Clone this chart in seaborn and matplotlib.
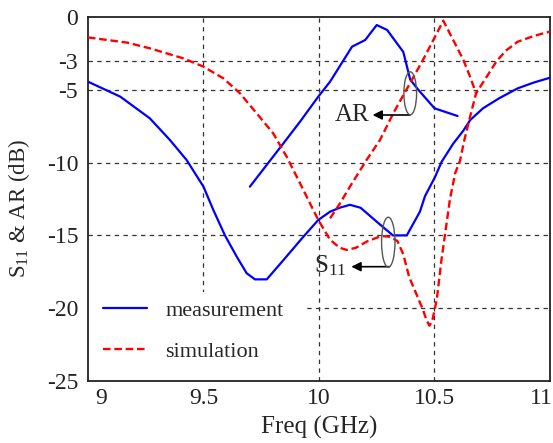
import matplotlib
matplotlib.use("Agg")
import matplotlib.pyplot as plt
import matplotlib.transforms as mtransforms
from matplotlib.patches import Ellipse, Rectangle
import seaborn as sns

# Measured S11 (blue, solid)
freq_meas_s11 = [9.0, 9.14, 9.268, 9.355, 9.427, 9.5, 9.543, 9.593, 9.644, 9.687, 9.723,
                 9.774, 9.846, 9.932, 9.997, 10.048, 10.09, 10.134, 10.18, 10.25, 10.29,
                 10.32, 10.38, 10.408, 10.437, 10.459, 10.502, 10.531, 10.581, 10.625,
                 10.655, 10.71, 10.78, 10.86, 10.93, 11.0]
meas_s11 = [-4.44, -5.47, -6.96, -8.45, -9.82, -11.65, -13.26, -15.0, -16.46, -17.6, -18.02,
            -18.02, -16.7, -15.1, -13.94, -13.37, -13.1, -12.9, -13.1, -14.06, -14.6,
            -15.0, -15.0, -14.2, -13.37, -12.3, -11.0, -9.94, -8.7, -7.8,
            -7.07, -6.27, -5.58, -4.9, -4.5, -4.17]

# Measured AR (blue, solid)
freq_meas_ar = [9.701, 9.846, 9.918, 9.997, 10.048, 10.143, 10.2, 10.25, 10.295, 10.365,
                10.395, 10.43, 10.5, 10.6]
meas_ar = [-11.65, -8.68, -7.19, -5.47, -4.44, -2.04, -1.58, -0.55, -0.89, -2.4,
           -4.3, -5.0, -6.27, -6.8]

# Simulated S11 (red, dashed)
freq_sim_s11 = [9.0, 9.17, 9.268, 9.413, 9.5, 9.586, 9.658, 9.73, 9.802, 9.86, 9.918, 9.997,
                10.048, 10.09, 10.12, 10.16, 10.21, 10.27, 10.31, 10.34, 10.365, 10.39,
                10.45, 10.465, 10.478, 10.49, 10.51, 10.53, 10.545, 10.567, 10.59, 10.61,
                10.63, 10.654, 10.68, 10.73, 10.77, 10.81, 10.86, 10.93, 11.0]
sim_s11 = [-1.4, -1.76, -2.15, -2.84, -3.41, -4.21, -5.24, -6.61, -7.99, -9.59, -11.42, -13.94,
           -15.3, -15.85, -16.0, -15.85, -15.4, -15.04, -15.1, -15.4, -16.3, -17.84,
           -20.1, -20.8, -21.2, -20.9, -19.4, -16.7, -15.0, -12.5, -10.7, -9.9,
           -8.4, -6.85, -5.24, -4.0, -3.0, -2.3, -1.7, -1.3, -1.0]

# Simulated AR (red, dashed)
freq_sim_ar = [10.048, 10.091, 10.134, 10.206, 10.264, 10.322, 10.394, 10.45, 10.495,
               10.538, 10.581, 10.625, 10.654, 10.68]
sim_ar = [-13.83, -12.8, -11.65, -9.82, -8.45, -6.6, -4.55, -2.95, -1.58,
          -0.25, -1.58, -2.95, -4.1, -5.24]

x_ticks = [9, 9.5, 10, 10.5, 11]
x_tick_labels = ["9", "9.5", "10", "10.5", "11"]
y_ticks = [0, -3, -5, -10, -15, -20, -25]
y_tick_labels = ["0", "-3", "-5", "-10", "-15", "-20", "-25"]

sns.set_style("white")
plt.rcParams['font.family'] = ['Liberation Serif', 'DejaVu Serif']
plt.rcParams['mathtext.fontset'] = 'custom'
plt.rcParams['mathtext.rm'] = 'Liberation Serif'
plt.rcParams['mathtext.it'] = 'Liberation Serif:italic'

fig = plt.figure(figsize=(5.53, 4.43), dpi=100)
ax = fig.add_axes([0.159, 0.14, 0.8356, 0.8216])

dash = (0, (3.2, 1.6))
sns.lineplot(x=freq_meas_s11, y=meas_s11, color='#0000ff', lw=1.6, sort=False,
             estimator=None, ax=ax, label='measurement', zorder=3)
sns.lineplot(x=freq_meas_ar, y=meas_ar, color='#0000ff', lw=1.6, sort=False,
             estimator=None, ax=ax, zorder=3)
sns.lineplot(x=freq_sim_s11, y=sim_s11, color='#ff0000', lw=1.7, sort=False,
             estimator=None, ax=ax, label='simulation', linestyle=dash, zorder=3)
sns.lineplot(x=freq_sim_ar, y=sim_ar, color='#ff0000', lw=1.7, sort=False,
             estimator=None, ax=ax, linestyle=dash, zorder=3)

ax.set_xlim(9, 11)
ax.set_ylim(-25, 0)
ax.set_xticks(x_ticks)
ax.set_xticklabels(x_tick_labels)
ax.set_yticks(y_ticks)
ax.set_yticklabels(y_tick_labels)
ax.tick_params(direction='in', length=4, width=1, labelsize=17, colors='#222222')
ax.tick_params(axis='y', pad=7)
ax.tick_params(axis='x', pad=5)

# dashed grid only inside the frame
for xv in [9.5, 10, 10.5]:
    ax.axvline(xv, color='#333333', lw=0.9, linestyle=(0, (3.5, 3.5)), zorder=1)
for yv in [-3, -5, -10, -15, -20]:
    ax.axhline(yv, color='#333333', lw=0.9, linestyle=(0, (3.5, 3.5)), zorder=1)

# white patch behind the legend hides the grid there
ax.add_patch(Rectangle((0, 0), 0.47, 0.245, transform=ax.transAxes, facecolor='white',
                       edgecolor='none', zorder=2))

for sp in ax.spines.values():
    sp.set_color('#222222')
    sp.set_linewidth(1.3)

ax.set_xlabel("Freq (GHz)", fontsize=18, labelpad=5)
ax.set_ylabel(r"$\mathrm{S}_{11}$ & AR (dB)", fontsize=16.5)
ax.yaxis.set_label_coords(-0.12, 0.475)

# edge tick labels sit inside
lbls = ax.get_xticklabels()
lbls[0].set_transform(lbls[0].get_transform() +
                      mtransforms.ScaledTranslation(0.13, 0, fig.dpi_scale_trans))
lbls[-1].set_transform(lbls[-1].get_transform() +
                       mtransforms.ScaledTranslation(-0.09, 0, fig.dpi_scale_trans))

# annotations
ax.add_patch(Ellipse((10.395, -5.24), 0.055, 2.95, fill=False, edgecolor='#555555',
                     lw=1, zorder=4))
ax.annotate('', xy=(10.232, -6.73), xytext=(10.394, -6.73),
            arrowprops=dict(arrowstyle='-|>', color='black', lw=1.2, mutation_scale=14,
                            shrinkA=0, shrinkB=0))
ax.text(10.145, -6.73, "AR", fontsize=18, ha='center', va='center')

ax.add_patch(Ellipse((10.3, -15.47), 0.058, 3.43, fill=False, edgecolor='#555555',
                     lw=1, zorder=4))
ax.annotate('', xy=(10.14, -17.15), xytext=(10.305, -17.15),
            arrowprops=dict(arrowstyle='-|>', color='black', lw=1.2, mutation_scale=14,
                            shrinkA=0, shrinkB=0))
ax.text(10.05, -17.1, r"$\mathrm{S}_{11}$", fontsize=18, ha='center', va='center')

leg = ax.legend(loc='upper left', bbox_to_anchor=(0.0325, 0.2225), fontsize=16,
                frameon=False, borderaxespad=0, borderpad=0, handlelength=2.0,
                handletextpad=0.8, labelspacing=0.95)
leg.set_zorder(5)

fig.savefig("out.png", dpi=100)
